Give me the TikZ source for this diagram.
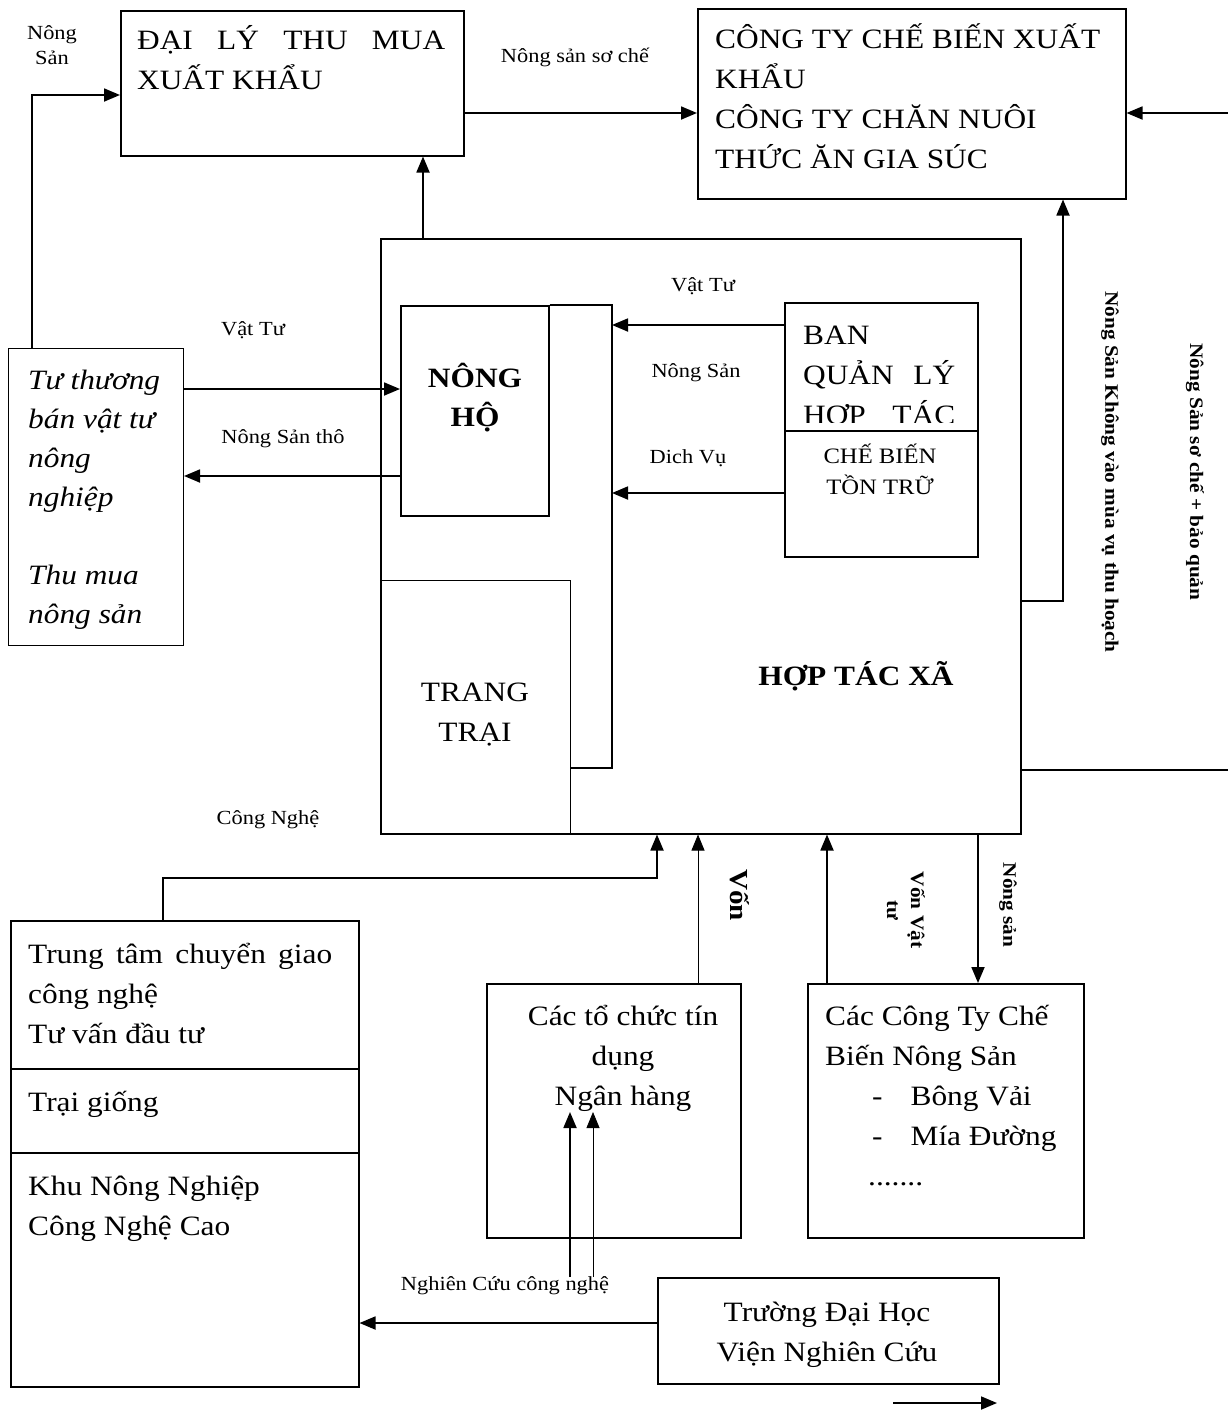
\documentclass[tikz,border=0pt]{standalone}
\usepackage{fontspec}
\setmainfont[FakeStretch=1.12]{Liberation Serif}
\usetikzlibrary{arrows.meta}
\begin{document}
\begin{tikzpicture}[x=1pt,y=-1pt,
  boxs/.style={draw, line width=1.5pt, inner sep=0pt, anchor=north west},
  tl/.style={font=\fontsize{28}{40}\selectfont, inner sep=0pt, align=left, anchor=north west},
  tc/.style={font=\fontsize{28}{40}\selectfont, inner sep=0pt, align=center, anchor=north},
  lbl/.style={font=\fontsize{20}{25}\selectfont, inner sep=0pt, anchor=base},
  rlbl/.style={font=\bfseries\fontsize{19}{24}\selectfont, inner sep=0pt, rotate=-90, align=left},
  conn/.style={line width=1.8pt, -{Triangle[length=16pt,width=13pt]}},
  thinconn/.style={line width=0.8pt, -{Triangle[length=16pt,width=13pt]}},
]
\useasboundingbox (0,0) rectangle (1228,1411);

% boxes
\node[boxs, minimum width=343pt, minimum height=145pt] (daily) at (120,10) {};
\node[boxs, minimum width=428pt, minimum height=190pt] (cty) at (697,8) {};
\node[boxs, minimum width=640pt, minimum height=595pt] (htx) at (380,238) {};
\node[boxs, line width=1pt, minimum width=175pt, minimum height=297pt] (tt) at (8,348) {};
\node[boxs, minimum width=148pt, minimum height=210pt] (nh) at (400,305) {};
\node[boxs, minimum width=193pt, minimum height=128pt] (bql) at (784,302) {};
\node[boxs, minimum width=193pt, minimum height=126pt] (cb) at (784,430) {};
\node[boxs, line width=1pt, minimum width=190pt, minimum height=253pt] (trai) at (380,580) {};
\node[boxs, minimum width=348pt, minimum height=148pt] (ttcg) at (10,920) {};
\node[boxs, minimum width=348pt, minimum height=84pt] (tg) at (10,1068) {};
\node[boxs, minimum width=348pt, minimum height=234pt] (khu) at (10,1152) {};
\node[boxs, minimum width=254pt, minimum height=254pt] (bank) at (486,983) {};
\node[boxs, minimum width=276pt, minimum height=254pt] (cocty) at (807,983) {};
\node[boxs, minimum width=341pt, minimum height=106pt] (truong) at (657,1277) {};

% inner line of the cooperative
\coordinate (ia) at (612,305);
\coordinate (ib) at (612,768);
\coordinate (ic) at (570,768);
\draw[line width=1.5pt] (nh.north east) -- (ia) -- (ib) -- (ic);

% box texts
\node[tl] (dailyt) at (137,21) {\strut\makebox[308pt][s]{ĐẠI LÝ THU MUA}\\XUẤT KHẨU};
\node[tl] (ctyt) at (715,20) {\strut CÔNG TY CHẾ BIẾN XUẤT\\KHẨU\\CÔNG TY CHĂN NUÔI\\THỨC ĂN GIA SÚC};
\node[tl, font=\itshape\fontsize{28}{39}\selectfont] (ttt) at (28,362) {\strut Tư thương\\bán vật tư\\nông\\nghiệp\\[39pt]Thu mua\\nông sản};
\node[tc, font=\bfseries\fontsize{28}{39}\selectfont] (nht) at (475,360) {\strut NÔNG\\HỘ};
\begin{scope}
\clip (784,302) rectangle (977,422);
\node[tl] (bqlt) at (803,316) {\strut BAN\\\makebox[152pt][s]{QUẢN LÝ}\\\makebox[152pt][s]{HỢP TÁC}};
\end{scope}
\node[tc, font=\fontsize{22}{31}\selectfont] (cbt) at (880,442) {\strut CHẾ BIẾN\\TỒN TRỮ};
\node[tc] (trait) at (475,673) {\strut TRANG\\TRẠI};
\node[tc, font=\bfseries\fontsize{28}{40}\selectfont] (htxt) at (856,657) {\strut HỢP TÁC XÃ};
\node[tl] (ttcgt) at (28,935) {\strut\makebox[304pt][s]{Trung tâm chuyển giao}\\công nghệ\\Tư vấn đầu tư};
\node[tl] (tgt) at (28,1083) {\strut Trại giống};
\node[tl] (khut) at (28,1167) {\strut Khu Nông Nghiệp\\Công Nghệ Cao};
\node[tc] (bankt) at (623,997) {\strut Các tổ chức tín\\dụng\\Ngân hàng};
\node[tl] (coctyt) at (825,997) {\strut Các Công Ty Chế\\Biến Nông Sản\\\hspace*{47pt}-\hspace{28pt}Bông Vải\\\hspace*{47pt}-\hspace{28pt}Mía Đường\\\hspace*{43pt}.......};
\node[tc] (truongt) at (827,1293) {\strut Trường Đại Học\\Viện Nghiên Cứu};

% labels
\node[lbl, align=center, anchor=north] (l1) at (52,22) {\strut Nông\\Sản};
\node[lbl] (l2) at (575,62) {Nông sản sơ chế};
\node[lbl] (l3) at (253,335) {Vật Tư};
\node[lbl] (l4) at (283,443) {Nông Sản thô};
\node[lbl] (l5) at (703,291) {Vật Tư};
\node[lbl] (l6) at (696,377) {Nông Sản};
\node[lbl] (l7) at (688,463) {Dich Vụ};
\node[lbl] (l8) at (268,824) {Công Nghệ};
\node[lbl] (l9) at (505,1290) {Nghiên Cứu công nghệ};
\node[rlbl, font=\bfseries\fontsize{26}{30}\selectfont] (l10) at (740,895) {Vốn};
\node[rlbl, align=center] (l11) at (906,910) {Vốn Vật\\tư};
\node[rlbl] (l12) at (1008,905) {Nông sản};
\node[rlbl] (l13) at (1110,472) {Nông Sản Không vào mùa vụ thu hoạch};
\node[rlbl] (l14) at (1195,472) {Nông Sản sơ chế + bảo quản};

% connectors
\coordinate (c1) at (32,95);
\draw[conn] (c1 |- tt.north) -- (c1) -- (daily.west |- c1);
\coordinate (c2) at (423,0);
\draw[conn] (c2 |- htx.north) -- (c2 |- daily.south);
\coordinate (c3) at (0,113);
\draw[conn] (daily.east |- c3) -- (cty.west |- c3);
\coordinate (c4a) at (1063,601);
\draw[conn] (htx.east |- c4a) -- (c4a) -- (c4a |- cty.south);
\coordinate (c5a) at (1236,770);
\coordinate (c5b) at (1236,113);
\draw[conn] (htx.east |- c5a) -- (c5a) -- (c5b) -- (cty.east |- c5b);
\coordinate (c6) at (0,389);
\draw[conn] (tt.east |- c6) -- (nh.west |- c6);
\coordinate (c7) at (0,476);
\draw[conn] (nh.west |- c7) -- (tt.east |- c7);
\coordinate (c8) at (0,325);
\draw[conn] (bql.west |- c8) -- (ia |- c8);
\coordinate (c9) at (0,493);
\draw[conn] (cb.west |- c9) -- (ia |- c9);
\coordinate (c10a) at (163,878);
\coordinate (c10b) at (657,878);
\draw[conn] (c10a |- ttcg.north) -- (c10a) -- (c10b) -- (c10b |- htx.south);
\coordinate (c11) at (698,0);
\draw[thinconn] (c11 |- bank.north) -- (c11 |- htx.south);
\coordinate (c12) at (827,0);
\draw[conn] (c12 |- cocty.north) -- (c12 |- htx.south);
\coordinate (c13) at (978,0);
\draw[conn] (c13 |- htx.south) -- (c13 |- cocty.north);
\coordinate (c14) at (0,1323);
\draw[conn] (truong.west |- c14) -- (khu.east |- c14);
\coordinate (c15a) at (570,1277);
\coordinate (c15b) at (593,1277);
\coordinate (c15t) at (0,1112);
\draw[conn] (c15a) -- (c15a |- c15t);
\draw[thinconn] (c15b) -- (c15b |- c15t);
\coordinate (c16a) at (893,1403);
\coordinate (c16b) at (997,1403);
\draw[conn] (c16a) -- (c16b);
\end{tikzpicture}
\end{document}
